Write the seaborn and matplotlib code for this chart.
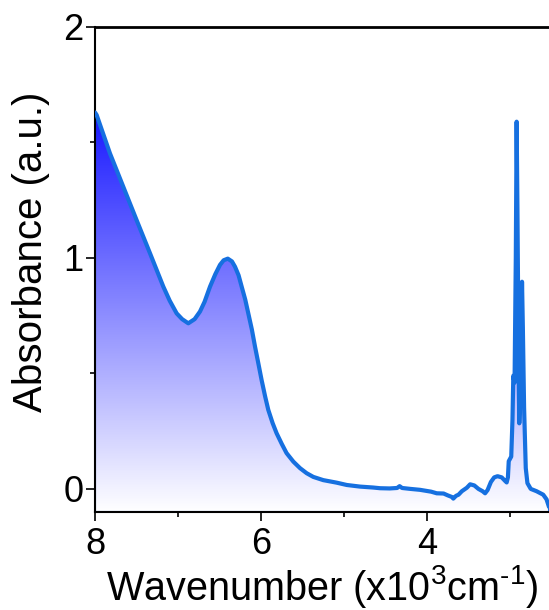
import numpy as np
import pandas as pd
import matplotlib
matplotlib.use("Agg")
import matplotlib.pyplot as plt
from matplotlib.colors import LinearSegmentedColormap
from matplotlib.ticker import MultipleLocator
import seaborn as sns

# Data (wavenumber in 10^3 cm^-1, absorbance a.u.)
wavenumber = [8.00, 7.98, 7.82, 7.66, 7.50, 7.337, 7.177, 7.10, 7.016, 6.95,
              6.876, 6.80, 6.735, 6.68, 6.614, 6.55, 6.494, 6.45, 6.40, 6.35,
              6.313, 6.27, 6.233, 6.19, 6.153, 6.11, 6.072, 6.03, 5.993, 5.95,
              5.912, 5.86, 5.812, 5.75, 5.692, 5.61, 5.53, 5.45, 5.37, 5.25,
              5.088, 4.967, 4.807, 4.65, 4.566, 4.45, 4.36, 4.33, 4.30, 4.20,
              4.084, 3.95, 3.883, 3.80, 3.75, 3.70, 3.683, 3.65, 3.62, 3.58,
              3.52, 3.48, 3.43, 3.38, 3.33, 3.30, 3.27, 3.23, 3.19, 3.15,
              3.10, 3.06, 3.04, 3.025, 3.015, 3.00, 2.985, 2.97, 2.96, 2.945,
              2.93, 2.92, 2.91, 2.895, 2.888, 2.87, 2.855, 2.845, 2.83, 2.81,
              2.79, 2.75, 2.68, 2.60, 2.56, 2.53]
absorbance = [1.63, 1.619, 1.453, 1.309, 1.165, 1.020, 0.876, 0.815, 0.760, 0.735,
              0.717, 0.735, 0.768, 0.810, 0.876, 0.930, 0.970, 0.990, 0.997, 0.985,
              0.962, 0.925, 0.876, 0.820, 0.760, 0.690, 0.616, 0.540, 0.472, 0.400,
              0.342, 0.285, 0.241, 0.195, 0.155, 0.118, 0.090, 0.068, 0.052, 0.038,
              0.027, 0.017, 0.010, 0.006, 0.003, 0.002, 0.004, 0.012, 0.004, 0.000,
              -0.004, -0.012, -0.019, -0.020, -0.028, -0.035, -0.042, -0.030, -0.025, -0.010,
              0.005, 0.020, 0.015, 0.000, -0.010, -0.019, -0.005, 0.030, 0.050, 0.055,
              0.050, 0.035, 0.028, 0.050, 0.120, 0.130, 0.140, 0.300, 0.490, 0.460,
              1.000, 1.590, 1.200, 0.500, 0.284, 0.450, 0.897, 0.700, 0.350, 0.090,
              0.025, 0.000, -0.010, -0.025, -0.045, -0.078]

xlabel = "Wavenumber (x10$^3$cm$^{\\text{-}1}$)"
ylabel = "Absorbance (a.u.)"
xticks = [8, 6, 4]
yticks = [0, 1, 2]

df = pd.DataFrame({"wavenumber": wavenumber, "absorbance": absorbance})

sns.set_theme(style="ticks")
plt.rcParams["font.family"] = ["Liberation Sans", "DejaVu Sans"]
plt.rcParams["mathtext.fontset"] = "custom"
plt.rcParams["mathtext.rm"] = "Liberation Sans"
plt.rcParams["mathtext.default"] = "regular"
for key in ["text.color", "axes.labelcolor", "xtick.color", "ytick.color"]:
    plt.rcParams[key] = "black"

fig = plt.figure(figsize=(5.49, 6.10), dpi=100)
ax = fig.add_axes([95 / 549, 1 - 512 / 610, 1 - 95 / 549, (512 - 27) / 610])

line_color = "#1670e0"
xlo, xhi = 8.0, 2.53
ylo, yhi = -0.1, 2.0

# gradient fill under the curve
poly = ax.fill_between(df["wavenumber"], df["absorbance"], ylo,
                       facecolor="none", edgecolor=line_color, linewidth=1.5, zorder=2)
cmap = LinearSegmentedColormap.from_list("grad", ["#ffffff", "#1818ff"])
grad = np.linspace(0, 1, 256).reshape(-1, 1)
img = ax.imshow(grad, cmap=cmap, aspect="auto", origin="lower",
                extent=[xlo, xhi, ylo, max(absorbance[:5])], zorder=1)
clip = poly.get_paths()[0]
img.set_clip_path(clip, transform=ax.transData)

sns.lineplot(data=df, x="wavenumber", y="absorbance", ax=ax, color=line_color,
             linewidth=3.0, sort=False, estimator=None, zorder=3)

ax.set_xlim(xlo, xhi)
ax.set_ylim(ylo, yhi)
ax.set_xticks(xticks)
ax.set_yticks(yticks)
ax.xaxis.set_minor_locator(MultipleLocator(1))
ax.yaxis.set_minor_locator(MultipleLocator(0.5))
ax.tick_params(which="major", direction="out", length=6.5, width=1.2,
               labelsize=26, color="black", labelcolor="black")
ax.tick_params(which="minor", direction="out", length=3.5, width=1.2, color="black")
ax.tick_params(axis="y", pad=2)
ax.tick_params(axis="x", pad=4)

for side in ["left", "bottom"]:
    ax.spines[side].set_linewidth(1.5)
    ax.spines[side].set_color("black")
ax.spines["top"].set_linewidth(2.0)
ax.spines["top"].set_color("black")
ax.spines["right"].set_visible(False)

ax.set_xlabel(xlabel, fontsize=28.5, labelpad=1)
ax.set_ylabel(ylabel, fontsize=29)
ax.yaxis.set_label_coords(-0.10, 0.536)

fig.savefig("out.png", dpi=100)
